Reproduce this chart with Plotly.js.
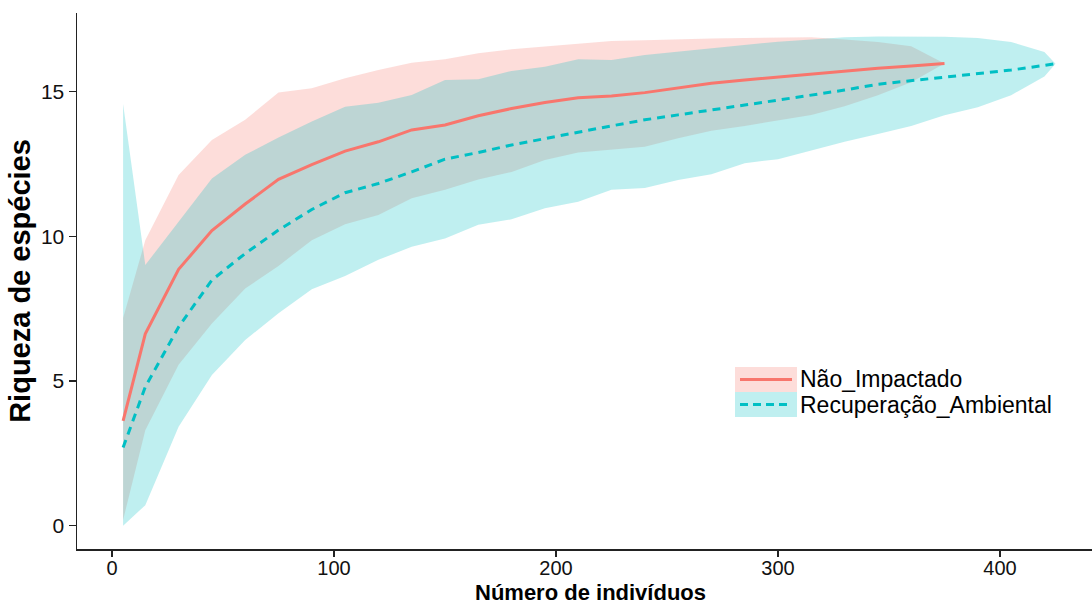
<!DOCTYPE html>
<html>
<head>
<meta charset="utf-8">
<script src="https://cdn.plot.ly/plotly-3.0.1.min.js"></script>
<style>html,body{margin:0;padding:0;background:#fff;}#chart{width:1092px;height:606px;}</style>
</head>
<body>
<div id="chart"></div>
<script>
// ---- Data ----
const seriesNames = ["Não_Impactado", "Recuperação_Ambiental"];

const xNaoImpactado = [5,15,30,45,60,75,90,105,120,135,150,165,180,195,210,225,240,255,270,285,300,315,330,345,360,375];
const meanNaoImpactado = [3.62,6.63,8.86,10.2,11.12,11.97,12.48,12.95,13.27,13.68,13.85,14.17,14.42,14.63,14.79,14.85,14.97,15.12,15.29,15.41,15.51,15.63,15.71,15.81,15.89,15.98];
const upperNaoImpactado = [7.18,9.87,12.12,13.33,14.03,14.97,15.12,15.47,15.75,16.0,16.12,16.33,16.47,16.56,16.65,16.75,16.78,16.82,16.84,16.86,16.88,16.88,16.81,16.72,16.57,15.98];
const lowerNaoImpactado = [0.2,3.3,5.56,6.99,8.2,8.98,9.87,10.42,10.74,11.32,11.61,11.97,12.23,12.64,12.9,13.0,13.1,13.39,13.65,13.82,14.0,14.2,14.5,14.88,15.33,15.98];

const xRecuperacao = [5,15,30,45,60,75,90,105,120,135,150,165,180,195,210,225,240,255,270,285,300,315,330,345,360,375,390,405,420,425];
const meanRecuperacao = [2.7,4.8,6.87,8.49,9.41,10.22,10.93,11.51,11.83,12.23,12.67,12.9,13.16,13.39,13.6,13.82,14.03,14.2,14.36,14.54,14.71,14.88,15.06,15.26,15.38,15.5,15.64,15.75,15.91,15.97];
const upperRecuperacao = [14.58,9.01,10.51,12.0,12.82,13.42,13.97,14.48,14.62,14.89,15.41,15.43,15.72,15.86,16.12,16.1,16.27,16.39,16.5,16.62,16.73,16.81,16.88,16.91,16.91,16.9,16.86,16.72,16.37,15.97];
const lowerRecuperacao = [0,0.71,3.42,5.21,6.42,7.34,8.17,8.63,9.19,9.64,9.93,10.4,10.59,10.97,11.2,11.61,11.67,11.95,12.15,12.53,12.67,12.98,13.27,13.54,13.82,14.19,14.46,14.88,15.53,15.97];

const xTicks = [0,100,200,300,400];
const yTicks = [0,5,10,15];
const xTitle = "Número de indivíduos";
const yTitle = "Riqueza de espécies";

// ---- Styles ----
const RED = "#F8766D", TEAL = "#00BFC4";
const RED_FILL = "rgba(248,118,109,0.25)", TEAL_FILL = "rgba(0,191,196,0.25)";
const FONT = "Liberation Sans, Arial, sans-serif";
const W = 1092, H = 606;
const M = {l: 77, r: 0, t: 13, b: 57};

function band(x, lo, hi, fill) {
  return [
    {x: x, y: lo, mode: "lines", line: {width: 0, color: fill}, showlegend: false, hoverinfo: "skip"},
    {x: x, y: hi, mode: "lines", line: {width: 0, color: fill}, fill: "tonexty", fillcolor: fill, showlegend: false, hoverinfo: "skip"}
  ];
}

const traces = [
  ...band(xNaoImpactado, lowerNaoImpactado, upperNaoImpactado, RED_FILL),
  ...band(xRecuperacao, lowerRecuperacao, upperRecuperacao, TEAL_FILL),
  {x: xNaoImpactado, y: meanNaoImpactado, mode: "lines", name: seriesNames[0],
   line: {color: RED, width: 3}, showlegend: false},
  {x: xRecuperacao, y: meanRecuperacao, mode: "lines", name: seriesNames[1],
   line: {color: TEAL, width: 3, dash: "8px,6px"}, showlegend: false}
];

// legend drawn manually (pixel -> paper helpers)
const pw = W - M.l - M.r, ph = H - M.t - M.b;
const px = v => (v - M.l) / pw;
const py = v => (H - M.b - v) / ph;

const legendRows = [
  {name: seriesNames[0], color: RED, fill: RED_FILL, dash: "solid", top: 367},
  {name: seriesNames[1], color: TEAL, fill: TEAL_FILL, dash: "8px,5px", top: 392}
];
const rowH = 25;
const shapes = [], annotations = [];
legendRows.forEach(r => {
  shapes.push({type: "rect", xref: "paper", yref: "paper", layer: "above",
    x0: px(735), x1: px(797), y0: py(r.top + rowH), y1: py(r.top),
    fillcolor: r.fill, line: {width: 0}});
  shapes.push({type: "line", xref: "paper", yref: "paper", layer: "above",
    x0: px(740), x1: px(792), y0: py(r.top + rowH / 2), y1: py(r.top + rowH / 2),
    line: {color: r.color, width: 3, dash: r.dash}});
  annotations.push({xref: "paper", yref: "paper", x: px(798), y: py(r.top + rowH / 2),
    xanchor: "left", yanchor: "middle", showarrow: false, text: r.name,
    font: {family: FONT, size: 23, color: "#000"}});
});

// x-axis title as an annotation placed where the reference has it
annotations.push({xref: "paper", yref: "paper", x: px(590), y: py(606),
  xanchor: "center", yanchor: "bottom", showarrow: false, text: "<b>" + xTitle + "</b>",
  font: {family: FONT, size: 22, color: "#000"}, borderpad: 0});

const axisCommon = {
  showgrid: false, zeroline: false, showline: true, linecolor: "#222", linewidth: 1.5,
  ticks: "outside", ticklen: 7, tickwidth: 1.2, tickcolor: "#222",
  tickfont: {family: FONT, size: 21, color: "#111"}
};

const layout = {
  width: W, height: H, margin: M,
  paper_bgcolor: "#fff", plot_bgcolor: "#fff",
  showlegend: false,
  xaxis: Object.assign({}, axisCommon, {
    range: [(M.l - 112) / 2.22, (W - 112) / 2.22], tickvals: xTicks,
    ticklen: 6, ticklabelstandoff: -6, tickfont: {family: FONT, size: 20, color: "#111"}
  }),
  yaxis: Object.assign({}, axisCommon, {
    range: [(525.7 - (H - M.b)) / 28.93, (525.7 - M.t) / 28.93], tickvals: yTicks,
    title: {text: "<b>" + yTitle + "</b>", font: {family: FONT, size: 29, color: "#000"}, standoff: 2}
  }),
  shapes: shapes,
  annotations: annotations
};

Plotly.newPlot("chart", traces, layout, {staticPlot: true, displayModeBar: false});
</script>
</body>
</html>
